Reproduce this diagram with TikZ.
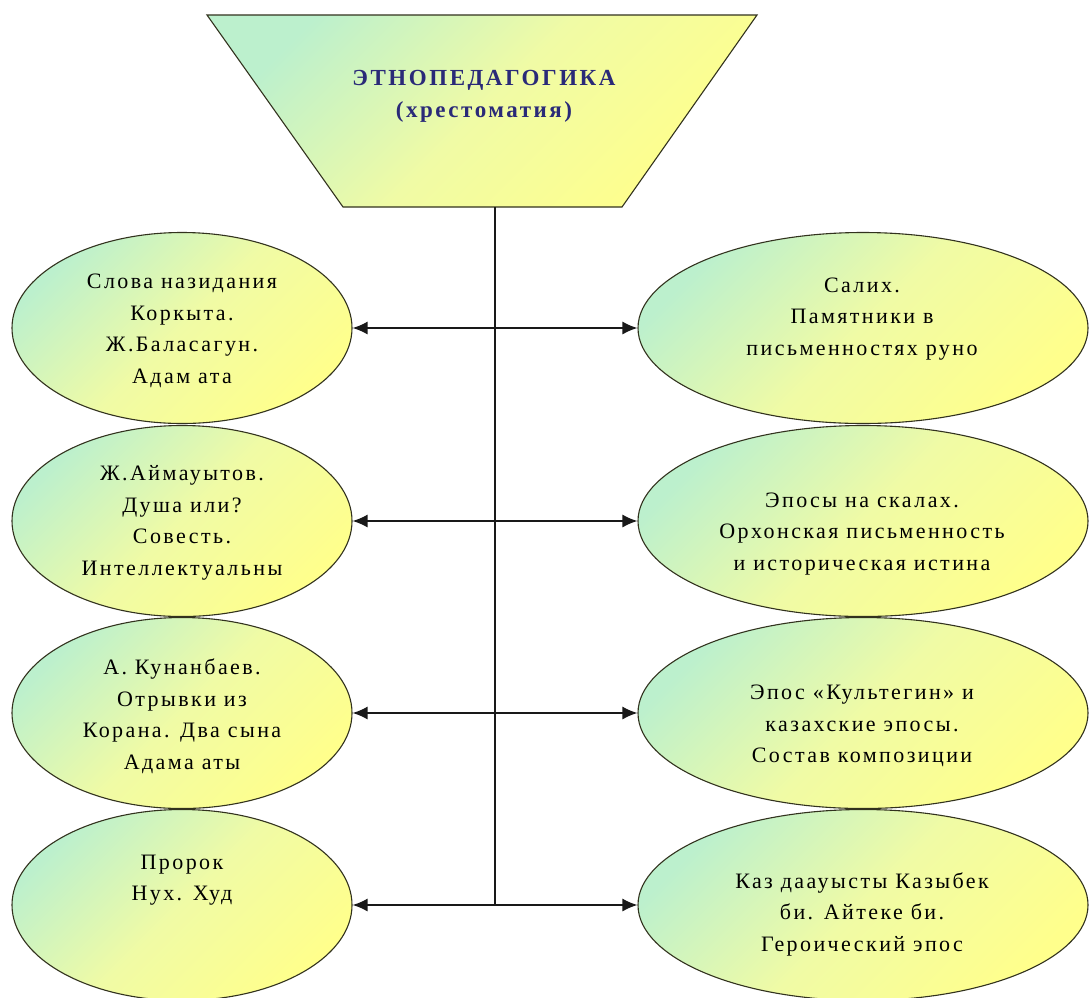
\documentclass[tikz,border=0pt]{standalone}
\usepackage{fontspec}
\setmainfont{Liberation Serif}[LetterSpace=11]
\usetikzlibrary{shapes.geometric,arrows.meta}
\definecolor{gGreen}{RGB}{188,240,205}
\definecolor{gMid}{RGB}{240,251,165}
\definecolor{gYellow}{RGB}{255,255,140}
\definecolor{titleblue}{RGB}{42,42,120}
\definecolor{edge}{RGB}{50,50,30}
\tikzset{
  grad/.style={top color=gGreen, bottom color=gYellow, middle color=gMid, shading angle=45},
  oval/.style={ellipse, draw=edge, line width=1.1pt, grad, minimum height=191pt, inner sep=0pt},
  lefto/.style={oval, minimum width=340pt},
  righto/.style={oval, minimum width=450pt},
  txt/.style={align=center, inner sep=0pt, font=\fontsize{22}{31.5}\selectfont},
  titletxt/.style={align=center, inner sep=0pt, text=titleblue, font=\bfseries\fontsize{23}{32}\selectfont},
  spine/.style={line width=1.5pt, black!90},
  conn/.style={line width=1.5pt, black!90, {Latex[length=15pt,width=13pt]}-{Latex[length=15pt,width=13pt]}},
}
\begin{document}
\begin{tikzpicture}[x=1pt,y=-1pt]
\useasboundingbox (0,0) rectangle (1091,997);
\fill[white] (0,0) rectangle (1091,997);

% top trapezium
\coordinate (tTL) at (207,15);
\coordinate (tTR) at (757,15);
\coordinate (tBR) at (622,207);
\coordinate (tBL) at (343,207);
\shade[grad, draw=edge, line width=1.1pt] (tTL) -- (tTR) -- (tBR) -- (tBL) -- cycle;
\node[titletxt] (title) at (484,96) {ЭТНОПЕДАГОГИКА\\(хрестоматия)};

% ellipses
\node[lefto] (L1) at (182,328) {};
\node[lefto] (L2) at (182,521) {};
\node[lefto] (L3) at (182,713) {};
\node[lefto] (L4) at (182,905) {};
\node[righto] (R1) at (863,328) {};
\node[righto] (R2) at (863,521) {};
\node[righto] (R3) at (863,713) {};
\node[righto] (R4) at (863,905) {};

% texts
\node[txt] (tL1) at (182,331) {Слова назидания\\Коркыта.\\Ж.Баласагун.\\Адам ата};
\node[txt] (tL2) at (182,523) {Ж.Аймауытов.\\Душа или?\\Совесть.\\Интеллектуальны};
\node[txt] (tL3) at (182,716) {А. Кунанбаев.\\Отрывки из\\Корана. Два сына\\Адама аты};
\node[txt] (tL4) at (182,880) {Пророк\\Нух. Худ};
\node[txt] (tR1) at (862,319) {Салих.\\Памятники в\\письменностях руно};
\node[txt] (tR2) at (862,534) {Эпосы на скалах.\\Орхонская письменность\\и историческая истина};
\node[txt] (tR3) at (862,726) {Эпос «Культегин» и\\казахские эпосы.\\Состав композиции};
\node[txt] (tR4) at (862,914) {Каз даауысты Казыбек\\би. Айтеке би.\\Героический эпос};

% connectors
\coordinate (tb) at (495,207);
\coordinate (j4) at (495,905);
\draw[spine] (tb) -- (j4);
\draw[conn] (L1.east) -- (R1.west);
\draw[conn] (L2.east) -- (R2.west);
\draw[conn] (L3.east) -- (R3.west);
\draw[conn] (L4.east) -- (R4.west);
\end{tikzpicture}
\end{document}
